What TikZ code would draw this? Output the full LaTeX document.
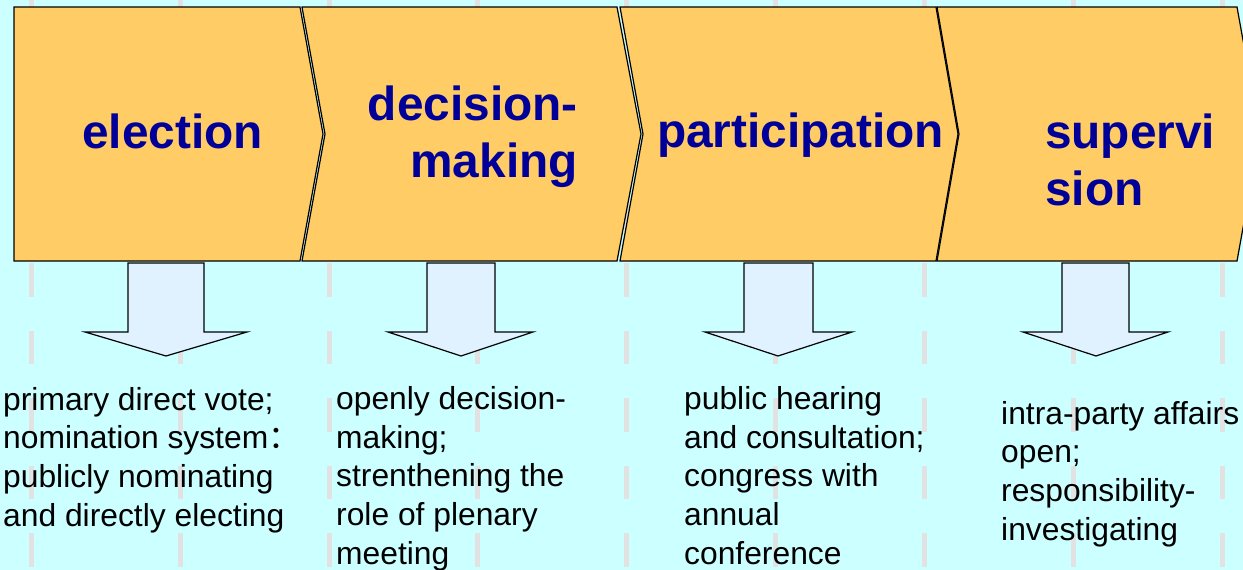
\documentclass[tikz,border=0pt]{standalone}
\usepackage{fontspec}
\setmainfont{Liberation Sans}
\newfontfamily\cjkfont{Noto Sans CJK SC}
\usetikzlibrary{positioning}
\definecolor{bgcyan}{RGB}{204,255,255}
\definecolor{stagefill}{RGB}{255,204,102}
\definecolor{stagetext}{RGB}{0,0,153}
\definecolor{arrowfill}{RGB}{224,242,255}
\definecolor{stripegray}{RGB}{226,226,226}

\begin{document}
\begin{tikzpicture}[
    x=1pt, y=-1pt,
    % Styles
    stagebox/.style={
        fill=stagefill,
        draw=black,
        line width=1.2pt,
        line join=miter
    },
    stagelabel/.style={
        font=\fontsize{47.8}{57}\selectfont\bfseries,
        text=stagetext,
        inner sep=0pt
    },
    downarrow/.style={
        fill=arrowfill,
        draw=black,
        line width=1.2pt,
        line join=miter
    },
    itemtext/.style={
        font=\fontsize{31.8}{38.6}\selectfont,
        align=left,
        inner sep=0pt
    },
    stripe/.style={
        draw=stripegray,
        line width=5pt,
        dash pattern=on 33.5pt off 34pt
    }
]

% --- Canvas ---
\useasboundingbox (0,0) rectangle (1243,570);
\fill [bgcyan] (0,0) rectangle (1243,570);
\clip (0,0) rectangle (1243,570);

% faint vertical stripes of the slide background
\draw [stripe] (31,-7) -- (31,580) (180,-7) -- (180,580) (329,-7) -- (329,580);
\draw [stripe] (477,-7) -- (477,580) (626,-7) -- (626,580) (775,-7) -- (775,580);
\draw [stripe] (924,-7) -- (924,580) (1073,-7) -- (1073,580) (1222,-7) -- (1222,580);

% --- Stage chevrons ---
\draw [stagebox] (14,7) -- (300,7) -- (323,134) -- (300,261) -- (14,261) -- cycle;
\draw [stagebox] (302,7) -- (617,7) -- (641,134) -- (617,261) -- (302,261) -- (325,134) -- cycle;
\draw [stagebox] (620,7) -- (936,7) -- (958,134) -- (936,261) -- (620,261) -- (643,134) -- cycle;
\draw [stagebox] (937,7) -- (1237,7) -- (1260,134) -- (1237,261) -- (937,261) -- (959,134) -- cycle;

% labels (base = baseline of the last line)
\node (election) [stagelabel, anchor=base west] at (82,148) {election};
\node (decision) [stagelabel, align=right, anchor=base east] at (578,177) {decision-\\making};
\node (participation) [stagelabel, anchor=base west] at (657,147) {participation};
\node (supervision) [stagelabel, align=left, anchor=base west] at (1045,205) {supervi\\sion};

% --- Down arrows ---
\draw [downarrow] (128,263) -- (204,263) -- (204,332) -- (247,332) -- (166,356) -- (85,332) -- (128,332) -- cycle;
\draw [downarrow] (427,263) -- (495,263) -- (495,332) -- (533,332) -- (461,356) -- (388,332) -- (427,332) -- cycle;
\draw [downarrow] (744,263) -- (813,263) -- (813,332) -- (852,332) -- (778,356) -- (705,332) -- (744,332) -- cycle;
\draw [downarrow] (1062,263) -- (1129,263) -- (1129,332) -- (1168,332) -- (1096,356) -- (1023,332) -- (1062,332) -- cycle;

% --- Item texts ---
\node (election_items) [itemtext, anchor=base west] at (3,526) {primary direct vote;\\nomination system{\cjkfont ：}\\publicly nominating\\and directly electing};
\node (decision_items) [itemtext, anchor=base west] at (336,564) {openly decision-\\making;\\strenthening the\\role of plenary\\meeting};
\node (participation_items) [itemtext, anchor=base west] at (684,564) {public hearing\\and consultation;\\congress with\\annual\\conference};
\node (supervision_items) [itemtext, anchor=base west] at (1001,540) {intra-party affairs\\open;\\responsibility-\\investigating};

\end{tikzpicture}
\end{document}
